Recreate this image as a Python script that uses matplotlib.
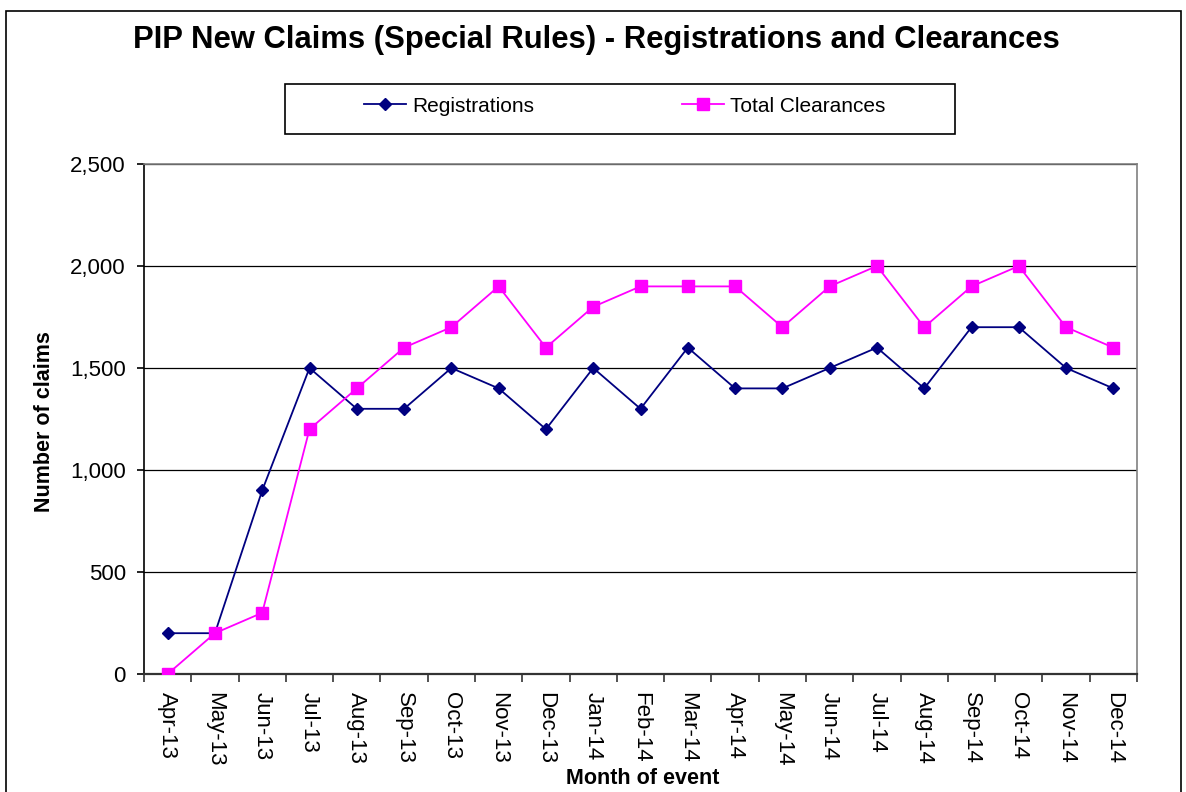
#!/usr/bin/env python3
import numpy as np
import matplotlib as mpl
mpl.use('Agg')
import matplotlib.pyplot as plt
from matplotlib.patches import Rectangle
from matplotlib.lines import Line2D
from matplotlib.ticker import FuncFormatter

# ========================================================================
# Data
# ========================================================================
months = ['Apr-13', 'May-13', 'Jun-13', 'Jul-13', 'Aug-13', 'Sep-13',
          'Oct-13', 'Nov-13', 'Dec-13', 'Jan-14', 'Feb-14', 'Mar-14',
          'Apr-14', 'May-14', 'Jun-14', 'Jul-14', 'Aug-14', 'Sep-14',
          'Oct-14', 'Nov-14', 'Dec-14']
registrations = [200, 200, 900, 1500, 1300, 1300, 1500, 1400, 1200, 1500,
                 1300, 1600, 1400, 1400, 1500, 1600, 1400, 1700, 1700,
                 1500, 1400]
clearances = [0, 200, 300, 1200, 1400, 1600, 1700, 1900, 1600, 1800, 1900,
              1900, 1900, 1700, 1900, 2000, 1700, 1900, 2000, 1700, 1600]

navy = '#000080'
magenta = '#FF00FF'
plt.rc('font', family=['Liberation Sans', 'DejaVu Sans'])

W, H = 1186, 792
fig = plt.figure(figsize=(W / 100, H / 100), dpi=100)


def fx(px):
    return px / W


def fy(py):
    return 1 - py / H


# outer chart frame
fig.patches.append(Rectangle((fx(6), -0.02), fx(1181) - fx(6),
                             fy(11) + 0.02, transform=fig.transFigure,
                             fill=False, edgecolor='black', lw=1.2))

ax = fig.add_axes([fx(144), fy(674), fx(1137) - fx(144), fy(164) - fy(674)])
x = np.arange(len(months))

ax.plot(x, registrations, color=navy, lw=1.3, marker='D', ms=6.5,
        markerfacecolor=navy, markeredgecolor=navy, zorder=3)
ax.plot(x, clearances, color=magenta, lw=1.3, marker='s', ms=8,
        markerfacecolor=magenta, markeredgecolor=magenta, zorder=3)

# ========================================================================
# Format
# ========================================================================
ax.set_xlim(-0.5, len(months) - 0.5)
ax.set_ylim(0, 2500)
ax.set_yticks(np.arange(0, 2501, 500))
ax.yaxis.set_major_formatter(FuncFormatter(lambda v, p: f'{int(v):,}'))
ax.grid(axis='y', color='black', lw=0.9)
ax.set_axisbelow(True)

ax.set_xticks(x)
ax.set_xticklabels(months, rotation=270, fontsize=16)
ax.set_xticks(np.arange(-0.5, len(months)), minor=True)
ax.tick_params(axis='x', which='major', length=0, pad=13)
ax.tick_params(axis='x', which='minor', length=6, width=1.2, color='#333333')
ax.tick_params(axis='y', length=5, width=1.2, pad=8, labelsize=16)

for s in ['top', 'right']:
    ax.spines[s].set_color('#808080')
    ax.spines[s].set_linewidth(1.2)
ax.spines['left'].set_color('black')
ax.spines['bottom'].set_color('#333333')
ax.spines['left'].set_linewidth(1.2)
ax.spines['bottom'].set_linewidth(1.6)

fig.text(fx(596), fy(40), 'PIP New Claims (Special Rules) - Registrations and Clearances',
         ha='center', va='center', fontsize=22.3, fontweight='bold')
fig.text(fx(45), fy(422), 'Number of claims', rotation=90, ha='center',
         va='center', fontsize=15.5, fontweight='bold')
fig.text(fx(643), fy(778), 'Month of event', ha='center', va='center',
         fontsize=15.5, fontweight='bold')

# legend box
fig.patches.append(Rectangle((fx(285), fy(134)), fx(955) - fx(285),
                             fy(84) - fy(134), transform=fig.transFigure,
                             fill=False, edgecolor='black', lw=1.2))
handles = [Line2D([], [], color=navy, lw=1.3, marker='D', ms=6.5),
           Line2D([], [], color=magenta, lw=1.3, marker='s', ms=8)]
fig.legend(handles, ['Registrations', 'Total Clearances'], ncol=2,
           loc='center', bbox_to_anchor=(fx(625), fy(106)), frameon=False,
           fontsize=15, handlelength=2.0, handletextpad=0.3,
           columnspacing=7.1)

plt.savefig('out.png', format='png', dpi=100)
